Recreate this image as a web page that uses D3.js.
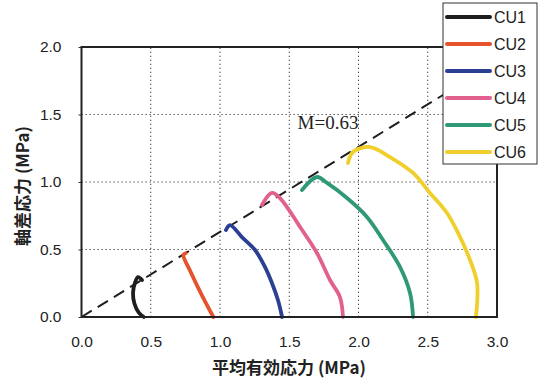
<!DOCTYPE html>
<html>
<head>
<meta charset="utf-8">
<script src="https://cdn.jsdelivr.net/npm/d3@7"></script>
<style>
  html, body { margin: 0; padding: 0; background: #fff; }
  text { font-family: "Liberation Sans", Arial, sans-serif; fill: #222; }
  .jp { font-family: "Noto Sans CJK JP", sans-serif; }
</style>
</head>
<body>
<div id="chart"></div>
<script>
// series names and path data (mean effective stress p, deviator stress q), MPa
var seriesNames = ['CU1', 'CU2', 'CU3', 'CU4', 'CU5', 'CU6'];

var cu1P = [0.437, 0.408, 0.385, 0.372, 0.382, 0.415, 0.450];
var cu1Q = [0.274, 0.296, 0.250, 0.178, 0.100, 0.030, 0.000];

var cu2P = [0.752, 0.736, 0.790, 0.865, 0.952];
var cu2Q = [0.472, 0.459, 0.330, 0.170, 0.000];

var cu3P = [1.043, 1.072, 1.160, 1.253, 1.320, 1.375, 1.420, 1.448];
var cu3Q = [0.644, 0.681, 0.590, 0.496, 0.380, 0.252, 0.120, 0.000];

var cu4P = [1.303, 1.375, 1.433, 1.578, 1.700, 1.794, 1.866, 1.888];
var cu4Q = [0.830, 0.919, 0.881, 0.667, 0.474, 0.274, 0.148, 0.000];

var cu5P = [1.592, 1.700, 1.773, 1.917, 2.061, 2.177, 2.300, 2.372, 2.394];
var cu5Q = [0.941, 1.037, 0.993, 0.881, 0.741, 0.570, 0.370, 0.178, 0.000];

var cu6P = [1.924, 1.960, 2.083, 2.227, 2.394, 2.516, 2.639, 2.733, 2.805, 2.856, 2.848];
var cu6Q = [1.141, 1.222, 1.259, 1.185, 1.067, 0.919, 0.770, 0.593, 0.422, 0.252, 0.000];

var xTicks = [0.0, 0.5, 1.0, 1.5, 2.0, 2.5, 3.0];
var yTicks = [0.0, 0.5, 1.0, 1.5, 2.0];
var slopeM = 0.63;

var colors = ['#1e1e1e', '#e6522c', '#2b3f93', '#e2608e', '#2f9878', '#f0cf2c'];

var allP = [cu1P, cu2P, cu3P, cu4P, cu5P, cu6P];
var allQ = [cu1Q, cu2Q, cu3Q, cu4Q, cu5Q, cu6Q];

var series = seriesNames.map(function (name, i) {
    return {
        name: name,
        color: colors[i],
        points: allP[i].map(function (p, j) { return { p: p, q: allQ[i][j] }; })
    };
});

var width = 540, height = 380;
var margin = { left: 81.5, right: 43, top: 47, bottom: 63 };

var svg = d3.select('#chart')
    .append('svg')
    .attr('width', width)
    .attr('height', height);

var x = d3.scaleLinear().domain([0, 3]).range([margin.left, width - margin.right]);
var y = d3.scaleLinear().domain([0, 2]).range([height - margin.bottom, margin.top]);

// dotted grid
svg.append('g')
    .selectAll('line')
    .data(xTicks.slice(1, -1))
    .enter()
    .append('line')
    .attr('x1', function (d) { return x(d); })
    .attr('x2', function (d) { return x(d); })
    .attr('y1', y(0))
    .attr('y2', y(2))
    .attr('stroke', '#444')
    .attr('stroke-width', 1)
    .attr('stroke-dasharray', '1.3,2.7');

svg.append('g')
    .selectAll('line')
    .data(yTicks.slice(1, -1))
    .enter()
    .append('line')
    .attr('x1', x(0))
    .attr('x2', x(3))
    .attr('y1', function (d) { return y(d); })
    .attr('y2', function (d) { return y(d); })
    .attr('stroke', '#444')
    .attr('stroke-width', 1)
    .attr('stroke-dasharray', '1.3,2.7');

// axes
var xAxis = svg.append('g')
    .attr('transform', 'translate(0,' + y(0) + ')')
    .call(d3.axisBottom(x).tickValues(xTicks).tickSize(0).tickPadding(19)
        .tickFormat(d3.format('.1f')));
xAxis.select('.domain').remove();
xAxis.selectAll('text').style('font-size', '15.5px').attr('fill', '#222');

var yAxis = svg.append('g')
    .attr('transform', 'translate(' + x(0) + ',0)')
    .call(d3.axisLeft(y).tickValues(yTicks).tickSize(3).tickPadding(17)
        .tickFormat(d3.format('.1f')));
yAxis.select('.domain').remove();
yAxis.selectAll('line').attr('stroke', '#333');
yAxis.selectAll('text').style('font-size', '15.5px').attr('fill', '#222');

// critical state line
svg.append('line')
    .attr('x1', x(0))
    .attr('y1', y(0))
    .attr('x2', x(3))
    .attr('y2', y(3 * slopeM))
    .attr('stroke', '#1e1e1e')
    .attr('stroke-width', 2)
    .attr('stroke-dasharray', '12,7');

svg.append('text')
    .attr('x', x(1.56))
    .attr('y', y(1.395))
    .style('font-family', '"Liberation Serif", "Times New Roman", serif')
    .style('font-size', '19px')
    .text('M=' + slopeM);

// stress paths
var line = d3.line()
    .x(function (d) { return x(d.p); })
    .y(function (d) { return y(d.q); })
    .curve(d3.curveCatmullRom.alpha(0.5));

svg.append('g')
    .selectAll('path')
    .data(series)
    .enter()
    .append('path')
    .attr('d', function (d) { return line(d.points); })
    .attr('fill', 'none')
    .attr('stroke', function (d) { return d.color; })
    .attr('stroke-width', 3.8)
    .attr('stroke-linecap', 'round')
    .attr('stroke-linejoin', 'round');

// frame
svg.append('rect')
    .attr('x', x(0))
    .attr('y', y(2))
    .attr('width', x(3) - x(0))
    .attr('height', y(0) - y(2))
    .attr('fill', 'none')
    .attr('stroke', '#222')
    .attr('stroke-width', 2);

// axis titles
svg.append('text')
    .attr('class', 'jp')
    .attr('x', 289)
    .attr('y', 374)
    .attr('text-anchor', 'middle')
    .style('font-size', '17px')
    .style('font-weight', 'bold')
    .text('平均有効応力 (MPa)');

svg.append('text')
    .attr('class', 'jp')
    .attr('transform', 'translate(29,186) rotate(-90)')
    .attr('text-anchor', 'middle')
    .style('font-size', '17px')
    .style('font-weight', 'bold')
    .text('軸差応力 (MPa)');

// legend
var legend = svg.append('g').attr('transform', 'translate(443,3)');
legend.append('rect')
    .attr('width', 94)
    .attr('height', 161)
    .attr('fill', '#fff')
    .attr('stroke', '#333')
    .attr('stroke-width', 1);

var items = legend.selectAll('g')
    .data(series)
    .enter()
    .append('g')
    .attr('transform', function (d, i) { return 'translate(0,' + (14 + i * 27) + ')'; });

items.append('line')
    .attr('x1', 4)
    .attr('x2', 47)
    .attr('stroke', function (d) { return d.color; })
    .attr('stroke-width', 4)
    .attr('stroke-linecap', 'round');

items.append('text')
    .attr('x', 51)
    .attr('dy', '0.36em')
    .style('font-size', '16px')
    .text(function (d) { return d.name; });
</script>
</body>
</html>
